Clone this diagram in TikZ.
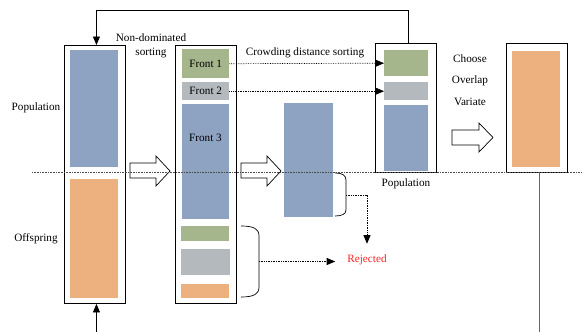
\documentclass[tikz,border=0pt]{standalone}
\usepackage{fontspec}
\setmainfont{Liberation Serif}
\usetikzlibrary{arrows.meta}
\definecolor{cblue}{HTML}{8EA3C2}
\definecolor{corange}{HTML}{EDB17F}
\definecolor{cgreen}{HTML}{A5B58C}
\definecolor{cgray}{HTML}{B4B9BD}
\definecolor{cred}{HTML}{FF2020}
\begin{document}
\begin{tikzpicture}[x=1pt,y=-1pt,
  outer/.style={draw=black,line width=0.9pt,fill=white,inner sep=0pt,anchor=north west},
  blk/.style={draw=none,inner sep=0pt,anchor=north west},
  lbl/.style={font=\fontsize{11.2}{13}\selectfont,inner sep=1pt},
  tip/.style={-{Triangle[length=8.5pt,width=7pt]}},
  dots/.style={densely dotted,line width=0.7pt},
  hollow/.style={draw=black,line width=0.7pt,fill=white}]
\useasboundingbox (0,0) rectangle (582,332);
% outer boxes
\node[outer,minimum width=61pt,minimum height=258pt] (b1) at (64,45) {};
\node[outer,minimum width=61pt,minimum height=258pt] (b2) at (175,45) {};
\node[outer,minimum width=61pt,minimum height=129pt] (b3) at (375,43) {};
\node[outer,minimum width=61pt,minimum height=129pt] (b4) at (506,43) {};
% box 1
\node[blk,fill=cblue,minimum width=48pt,minimum height=117pt] (pop1) at (70,50) {};
\node[blk,fill=corange,minimum width=48pt,minimum height=119pt] (off1) at (70,179) {};
% box 2
\node[blk,fill=cgreen,minimum width=47pt,minimum height=29pt,lbl] (f1) at (182,49) {};
\node[lbl] (f1t) at (f1.center) {Front 1};
\node[blk,fill=cgray,minimum width=47pt,minimum height=18pt] (f2) at (182,82) {};
\node[lbl] (f2t) at (f2.center) {Front 2};
\node[blk,fill=cblue,minimum width=47pt,minimum height=115pt] (f3) at (182,104) {};
\node[lbl] (f3t) at (205.5,138) {Front 3};
\node[blk,fill=cgreen,minimum width=48pt,minimum height=15pt] (g2) at (181,226) {};
\node[blk,fill=cgray,minimum width=49pt,minimum height=26pt] (gr2) at (181,249) {};
\node[blk,fill=corange,minimum width=48pt,minimum height=14pt] (o2) at (181,284) {};
% middle rect
\node[blk,fill=cblue,minimum width=49pt,minimum height=114pt] (mid) at (284,103) {};
% box 3
\node[blk,fill=cgreen,minimum width=44pt,minimum height=26pt] (b3g) at (384,50) {};
\node[blk,fill=cgray,minimum width=44pt,minimum height=18pt] (b3gr) at (384,82) {};
\node[blk,fill=cblue,minimum width=44pt,minimum height=66pt] (b3b) at (384,105) {};
% box 4
\node[blk,fill=corange,minimum width=48pt,minimum height=116pt] (b4o) at (512,51) {};
% labels
\node[lbl] (lpop) at (36,108) {Population};
\node[lbl] (loff) at (36,239) {Offspring};
\node[lbl] (lnd1) at (151,38) {Non-dominated};
\node[lbl] (lnd2) at (151,53) {sorting};
\node[lbl] (lcd) at (305,53) {Crowding distance sorting};
\node[lbl] (lch) at (470,59) {Choose};
\node[lbl] (lov) at (470,81) {Overlap};
\node[lbl] (lva) at (470,102) {Variate};
\node[lbl] (lpop3) at (406,184) {Population};
\node[lbl,text=cred] (rej) at (367,260) {Rejected};
% hollow arrows
\draw[hollow] (130,163) -- (156,163) -- (156,156) -- (170,171) -- (156,186) -- (156,178) -- (130,178) -- cycle;
\draw[hollow] (241,163) -- (267,163) -- (267,156) -- (281,171) -- (267,186) -- (267,178) -- (241,178) -- cycle;
\draw[hollow] (452,130) -- (479,130) -- (479,123) -- (493,137.5) -- (479,152) -- (479,145) -- (452,145) -- cycle;
% braces
\draw[line width=0.7pt] (241,226) .. controls (254,226) and (259,229) .. (259,236) -- (259,287) .. controls (259,294) and (254,297) .. (241,297);
\coordinate (br1) at (259,261.5);
\draw[line width=0.7pt] (335,173) .. controls (342,173) and (346,175) .. (346,180) -- (346,210) .. controls (346,214) and (342,216) .. (335,216);
\coordinate (br2) at (346,195);
% dotted connectors
\draw[dots,tip] (f1.east) -- (b3g.west);
\draw[dots,tip] (f2.east) -- (b3gr.west);
\draw[dots,tip,shorten >=11pt] (br1) -- (br1 -| rej.west);
\draw[dots,tip,shorten >=10pt] (br2) -| (rej.north);
% feedback loop
\coordinate (topr) at ([xshift=2.5pt]b3.north);
\coordinate (topl) at ([xshift=1.5pt]b1.north);
\draw[line width=0.8pt,tip] (topr) -- (topr |- 0,10) -- (topl |- 0,10) -- (topl);
\coordinate (botin) at ([xshift=1.5pt]b1.south);
\coordinate (botsrc) at (botin |- 0,332);
\draw[line width=0.8pt,tip] (botsrc) -- (botin);
\coordinate (b4out) at ([xshift=2pt]b4.south);
\coordinate (b4end) at (b4out |- 0,332);
\draw[line width=0.9pt,black!60] (b4out) -- (b4end);
% dotted horizontal line
\coordinate (hl) at (32,172);
\coordinate (hr) at (582,172);
\draw[densely dotted,line width=0.6pt,black!70] (hl) -- (hr);
\end{tikzpicture}
\end{document}
